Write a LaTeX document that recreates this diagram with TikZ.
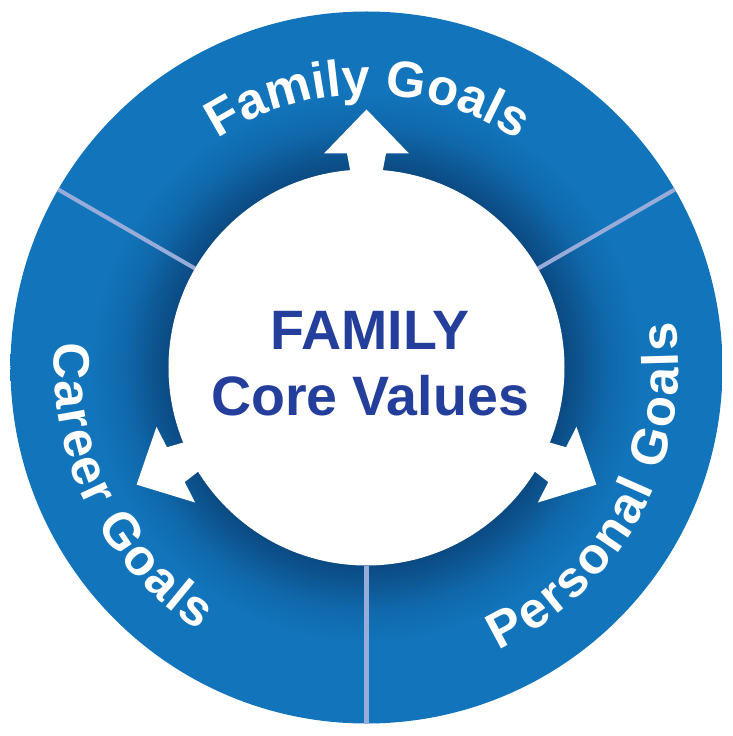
\documentclass[tikz,border=0pt]{standalone}
\usepackage{fontspec}
\setsansfont{Liberation Sans}
\usetikzlibrary{decorations.text}
\definecolor{ringblue}{HTML}{1275BC}
\definecolor{ringdark}{HTML}{0B4A82}
\definecolor{spokegray}{HTML}{98ACDA}
\definecolor{coreblue}{HTML}{243F9B}
\newcommand{\outr}{3.56}
\newcommand{\inr}{1.98}
\newcommand{\goalfont}{\fontsize{14.5}{17}\selectfont\sffamily\bfseries}
\pgfdeclareradialshading{ringshadow}{\pgfpointorigin}{color(0bp)=(ringdark); color(13.9bp)=(ringdark); color(15.5bp)=(ringdark!65!ringblue); color(17bp)=(ringdark!30!ringblue); color(19.5bp)=(ringblue); color(50bp)=(ringblue)}

\begin{document}
\begin{tikzpicture}[
    spoke/.style={draw=spokegray, line width=1.15pt},
    goal/.style={decorate, decoration={text along path, text align={fit to path}, text color=white}}
]
        \useasboundingbox (-3.665,-3.685) rectangle (3.655,3.675);
        \coordinate (O) at (0, 0);
        % ring with shadow
        \shade[shading=ringshadow] (O) circle (\outr);
        % spokes
        \foreach \ang in {30, 150, 270} {
            \draw[spoke] (\ang:\inr) -- (\ang:\outr);
        }
        \fill[white] (O) circle (\inr);
        % arrows
        \foreach \ang in {90, 207, 333} {
            \begin{scope}[rotate=\ang-90]
                \fill[white] (-0.14, 1.85) -- (0.14, 1.85) -- (0.195, 2.14) -- (0.425, 2.14)
                    -- (0, 2.58) -- (-0.425, 2.14) -- (-0.195, 2.14) -- cycle;
            \end{scope}
        }
        % labels
        \node[align=center, text=coreblue, font=\fontsize{15.8}{18.8}\selectfont\sffamily\bfseries] (core) at (0.035, 0.04) {FAMILY\\Core Values};
        \path[goal, decoration={text={|\goalfont|Family Goals}}] (123:2.73) arc[start angle=123, end angle=57, radius=2.73];
        \path[goal, decoration={text={|\goalfont|Career Goals}}] (175.5:3.12) arc[start angle=175.5, end angle=237.5, radius=3.12];
        \path[goal, decoration={text={|\goalfont|Personal Goals}}] (295:3.12) arc[start angle=295, end angle=368.5, radius=3.12];
\end{tikzpicture}
\end{document}
